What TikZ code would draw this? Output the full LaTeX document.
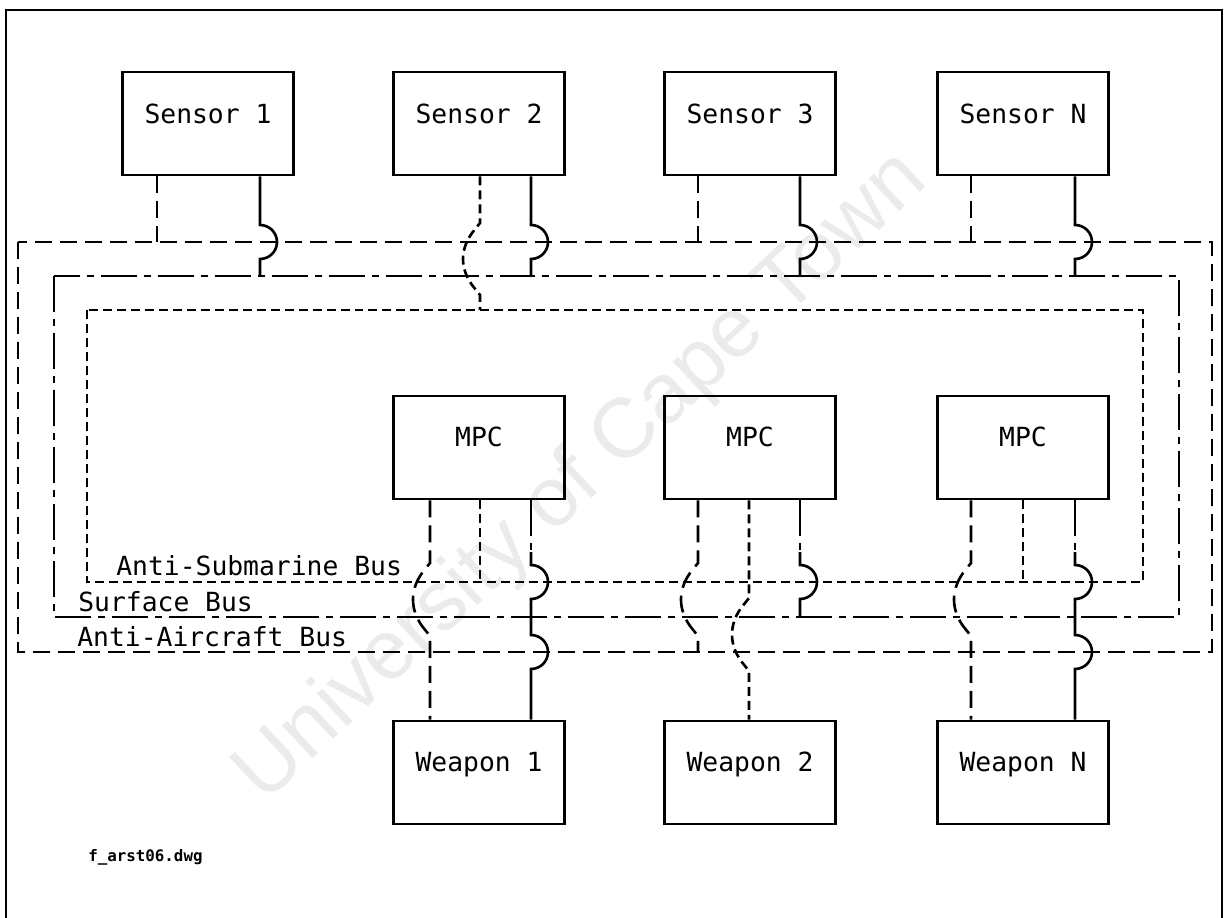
\documentclass[tikz,border=0pt]{standalone}
\usepackage{fontspec}
\newfontfamily\cadfont{DejaVu Sans Mono}
\newfontfamily\wmfont{Liberation Sans}
\usetikzlibrary{calc}
\newcommand\hopR[2]{-- ($(#1|-#2)+(0,-17)$) arc[start angle=90,end angle=-90,radius=0.34cm]}
\newcommand\jogL[3]{-- ($(#1|-#2)+(0,-19)$) -- ($(#1|-#2)+(-8,-9)$) .. controls ($(#1|-#2)+(-20,8)$) and ($(#1|-#3)+(-20,-8)$) .. ($(#1|-#3)+(-8,9)$) -- ($(#1|-#3)+(0,19)$)}
\begin{document}
\begin{tikzpicture}[x=0.02cm,y=-0.02cm,line width=1.5pt,line cap=butt,
  box/.style={draw,line width=1.6pt,minimum width=3.42cm,minimum height=2.06cm,inner sep=0pt},
  lbl/.style={font=\cadfont\fontsize{15}{15}\selectfont,anchor=base,inner sep=0pt},
  buslbl/.style={font=\cadfont\fontsize{15}{15}\selectfont,anchor=base west,inner sep=0pt},
  fname/.style={font=\cadfont\bfseries\fontsize{9}{9}\selectfont,anchor=base west,inner sep=0pt},
  bus/.style={line width=1.6pt},
  aa/.style={dash pattern=on 0.34cm off 0.16cm},
  sf/.style={dash pattern=on 0.72cm off 0.14cm on 0.14cm off 0.14cm},
  as/.style={dash pattern=on 0.18cm off 0.1cm}]
\useasboundingbox (0,0) rectangle (1226,918);
% watermark
\node[font=\wmfont\fontsize{48}{48}\selectfont,text=black!8,rotate=43,inner sep=0pt] (wm) at (582,478) {University of Cape Town};
% frame
\draw[line width=1.5pt] (6,918) -- (6,10) -- (1222,10) -- (1222,918);
% boxes
\node[box] (s1) at (208,123.5) {};
\node[box] (s2) at (479,123.5) {};
\node[box] (s3) at (750,123.5) {};
\node[box] (s4) at (1023,123.5) {};
\node[box] (m1) at (479,447.5) {};
\node[box] (m2) at (750,447.5) {};
\node[box] (m3) at (1023,447.5) {};
\node[box] (w1) at (479,772.5) {};
\node[box] (w2) at (750,772.5) {};
\node[box] (w3) at (1023,772.5) {};
\node[lbl] (s1t) at ($(s1.north)+(0,53)$) {Sensor 1};
\node[lbl] (s2t) at ($(s2.north)+(0,53)$) {Sensor 2};
\node[lbl] (s3t) at ($(s3.north)+(0,53)$) {Sensor 3};
\node[lbl] (s4t) at ($(s4.north)+(0,53)$) {Sensor N};
\node[lbl] (m1t) at ($(m1.north)+(0,52)$) {MPC};
\node[lbl] (m2t) at ($(m2.north)+(0,52)$) {MPC};
\node[lbl] (m3t) at ($(m3.north)+(0,52)$) {MPC};
\node[lbl] (w1t) at ($(w1.north)+(0,52)$) {Weapon 1};
\node[lbl] (w2t) at ($(w2.north)+(0,52)$) {Weapon 2};
\node[lbl] (w3t) at ($(w3.north)+(0,52)$) {Weapon N};
% bus levels
\coordinate (aaT) at (0,242);
\coordinate (sfT) at (0,276);
\coordinate (asT) at (0,310);
\coordinate (asB) at (0,582);
\coordinate (sfB) at (0,617);
\coordinate (aaB) at (0,652);
% buses
\coordinate (aaNW) at (18,242); \coordinate (aaSE) at (1212,652);
\coordinate (sfNW) at (54,276); \coordinate (sfSE) at (1179,617);
\coordinate (asNW) at (87,310); \coordinate (asSE) at (1143,582);
\draw[bus,aa] (aaNW) rectangle (aaSE);
\draw[bus,sf] (sfNW) rectangle (sfSE);
\draw[bus,as] (asNW) rectangle (asSE);
% columns
\coordinate (k1) at (157,0);
\coordinate (k2) at (260,0);
\coordinate (k3) at (430,0);
\coordinate (k4) at (480,0);
\coordinate (k5) at (531,0);
\coordinate (k6) at (698,0);
\coordinate (k7) at (749,0);
\coordinate (k8) at (800,0);
\coordinate (k9) at (971,0);
\coordinate (k10) at (1023,0);
\coordinate (k11) at (1075,0);
% sensor connectors
\draw[aa] (s1.south -| k1) -- (k1|-aaT);
\draw (s1.south -| k2) \hopR{k2}{aaT} -- (k2|-sfT);
\draw[as] (s2.south -| k4) \jogL{k4}{aaT}{sfT} -- (k4|-asT);
\draw (s2.south -| k5) \hopR{k5}{aaT} -- (k5|-sfT);
\draw[aa] (s3.south -| k6) -- (k6|-aaT);
\draw (s3.south -| k8) \hopR{k8}{aaT} -- (k8|-sfT);
\draw[aa] (s4.south -| k9) -- (k9|-aaT);
\draw (s4.south -| k11) \hopR{k11}{aaT} -- (k11|-sfT);
% MPC 1 / Weapon 1
\draw[aa] (m1.south -| k3) \jogL{k3}{asB}{sfB} -- (w1.north -| k3);
\draw[as] (m1.south -| k4) -- (k4|-asB);
\coordinate (h5) at ($(k5|-asB)+(0,-30)$);
\draw[sf] (m1.south -| k5) -- (h5);
\draw (h5) \hopR{k5}{asB} -- (k5|-sfB) \hopR{k5}{aaB} -- (w1.north -| k5);
% MPC 2 / Weapon 2
\draw[aa] (m2.south -| k6) \jogL{k6}{asB}{sfB} -- (k6|-aaB);
\draw[as] (m2.south -| k7) -- (k7|-asB) \jogL{k7}{sfB}{aaB} -- (w2.north -| k7);
\coordinate (h8) at ($(k8|-asB)+(0,-30)$);
\draw[sf] (m2.south -| k8) -- (h8);
\draw (h8) \hopR{k8}{asB} -- (k8|-sfB);
% MPC 3 / Weapon N
\draw[aa] (m3.south -| k9) \jogL{k9}{asB}{sfB} -- (w3.north -| k9);
\draw[as] (m3.south -| k10) -- (k10|-asB);
\coordinate (h11) at ($(k11|-asB)+(0,-30)$);
\draw[sf] (m3.south -| k11) -- (h11);
\draw (h11) \hopR{k11}{asB} -- (k11|-sfB) \hopR{k11}{aaB} -- (w3.north -| k11);
% labels
\node[buslbl] (lAS) at (115,575) {Anti-Submarine Bus};
\node[buslbl] (lSF) at (77,611) {Surface Bus};
\node[buslbl] (lAA) at (76,646) {Anti-Aircraft Bus};
\node[fname] (fn) at (87,861) {f\_arst06.dwg};
\end{tikzpicture}
\end{document}
